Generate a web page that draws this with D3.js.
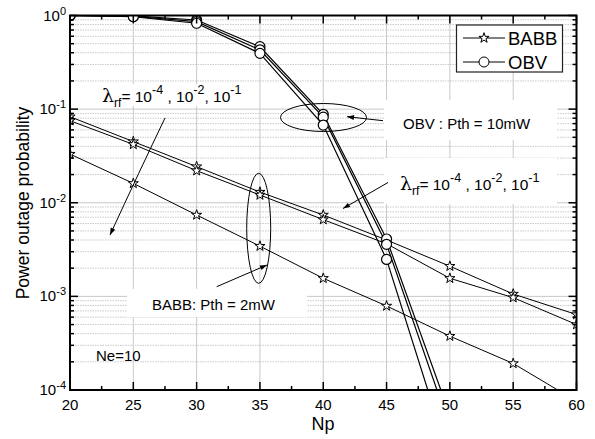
<!DOCTYPE html>
<html>
<head>
<meta charset="utf-8">
<script src="https://cdn.jsdelivr.net/npm/d3@7"></script>
<style>
    body { margin: 0; background: #fff; }
    svg text { font-family: "Liberation Sans", Arial, sans-serif; fill: #000; }
</style>
</head>
<body>
<svg id="chart" width="595" height="439"></svg>
<script>
// data
const npBabb = [20, 25, 30, 35, 40, 45, 50, 55, 60];
const babb1 = [0.083, 0.045, 0.0243, 0.013, 0.0074, 0.0040, 0.0021, 0.00106, 0.00064];
const babb2 = [0.0752, 0.042, 0.022, 0.0121, 0.0066, 0.00365, 0.00156, 0.00097, 0.0005];
const babb3 = [0.0331, 0.0161, 0.0074, 0.00344, 0.00156, 0.00079, 0.000376, 0.000192, 0.000076];
const npObv = [20, 25, 30, 35, 40, 45, 50];
const obv1 = [1.0, 0.99, 0.895, 0.464, 0.088, 0.0041, 5.4e-5];
const obv2 = [1.0, 0.98, 0.86, 0.43, 0.082, 0.0036, 4e-5];
const obv3 = [1.0, 0.97, 0.826, 0.394, 0.0676, 0.00248, 1.8e-5];
const xTicks = [20, 25, 30, 35, 40, 45, 50, 55, 60];
const yExps = [0, -1, -2, -3, -4];
const legendNames = ["BABB", "OBV"];

const pL = 70, pR = 576.5, pT = 15.5, pB = 390;
const x = d3.scaleLinear().domain([20, 60]).range([pL, pR]);
const y = d3.scaleLog().domain([1e-4, 1]).range([pB, pT]);

const svg = d3.select("#chart");
const defs = svg.append("defs");
defs.append("clipPath").attr("id", "plotclip")
    .append("rect").attr("x", pL).attr("y", pT)
    .attr("width", pR - pL).attr("height", pB - pT);
defs.append("marker").attr("id", "arrow")
    .attr("viewBox", "0 0 10 10").attr("refX", 10).attr("refY", 5)
    .attr("markerWidth", 10).attr("markerHeight", 7)
    .attr("markerUnits", "userSpaceOnUse").attr("orient", "auto")
    .append("path").attr("d", "M0,1.5L10,5L0,8.5Z").attr("fill", "#000");

// minor y grid (dotted)
let minorY = [];
for (let e = -4; e < 0; e++)
    for (let k = 2; k <= 9; k++) minorY.push(k * Math.pow(10, e));
svg.append("g").selectAll("line").data(minorY).join("line")
    .attr("x1", pL).attr("x2", pR)
    .attr("y1", d => y(d)).attr("y2", d => y(d))
    .attr("stroke", "#bdbdbd").attr("stroke-width", 0.8)
    .attr("stroke-dasharray", "1.5,1");
// major grid
svg.append("g").selectAll("line").data(yExps).join("line")
    .attr("x1", pL).attr("x2", pR)
    .attr("y1", d => y(Math.pow(10, d))).attr("y2", d => y(Math.pow(10, d)))
    .attr("stroke", "#c8c8c8").attr("stroke-width", 1);
svg.append("g").selectAll("line").data(xTicks).join("line")
    .attr("y1", pT).attr("y2", pB)
    .attr("x1", d => x(d)).attr("x2", d => x(d))
    .attr("stroke", "#c8c8c8").attr("stroke-width", 1);

// white boxes behind the annotation labels
const boxes = [[100, 84, 150, 22], [384, 100, 173, 40], [384, 158, 173, 46], [127, 289, 180, 28]];
svg.append("g").selectAll("rect").data(boxes).join("rect")
    .attr("x", d => d[0]).attr("y", d => d[1]).attr("width", d => d[2]).attr("height", d => d[3])
    .attr("fill", "#fff");

// series
const line = d3.line().x(d => x(d[0])).y(d => y(d[1]));
const plot = svg.append("g").attr("clip-path", "url(#plotclip)");
const obvSeries = [obv1, obv2, obv3].map(s => npObv.map((n, i) => [n, s[i]]));
const babbSeries = [babb1, babb2, babb3].map(s => npBabb.map((n, i) => [n, s[i]]));
const star = d3.symbol().type(d3.symbolStar).size(32);

babbSeries.forEach(s => {
    plot.append("path").attr("d", line(s)).attr("fill", "none")
        .attr("stroke", "#000").attr("stroke-width", 1);
});
obvSeries.forEach(s => {
    plot.append("path").attr("d", line(s)).attr("fill", "none")
        .attr("stroke", "#000").attr("stroke-width", 1.2);
});
babbSeries.forEach(s => {
    plot.append("g").selectAll("path").data(s).join("path")
        .attr("d", star)
        .attr("transform", d => "translate(" + x(d[0]) + "," + y(d[1]) + ")")
        .attr("fill", "#fff").attr("stroke", "#000").attr("stroke-width", 1);
});
obvSeries.forEach(s => {
    plot.append("g").selectAll("circle").data(s).join("circle")
        .attr("cx", d => x(d[0])).attr("cy", d => y(d[1])).attr("r", 5)
        .attr("fill", "#fff").attr("stroke", "#000").attr("stroke-width", 1.2);
});

// frame + ticks
svg.append("rect").attr("x", pL).attr("y", pT)
    .attr("width", pR - pL).attr("height", pB - pT)
    .attr("fill", "none").attr("stroke", "#000").attr("stroke-width", 2);
const ticks = svg.append("g").attr("stroke", "#000").attr("stroke-width", 1.5);
xTicks.forEach(t => {
    ticks.append("line").attr("x1", x(t)).attr("x2", x(t)).attr("y1", pB).attr("y2", pB - 8);
    ticks.append("line").attr("x1", x(t)).attr("x2", x(t)).attr("y1", pT).attr("y2", pT + 8);
    if (t < 60) {
        ticks.append("line").attr("x1", x(t + 2.5)).attr("x2", x(t + 2.5)).attr("y1", pB).attr("y2", pB - 4);
        ticks.append("line").attr("x1", x(t + 2.5)).attr("x2", x(t + 2.5)).attr("y1", pT).attr("y2", pT + 4);
    }
});
yExps.forEach(e => {
    const yy = y(Math.pow(10, e));
    ticks.append("line").attr("x1", pL).attr("x2", pL + 8).attr("y1", yy).attr("y2", yy);
    ticks.append("line").attr("x1", pR).attr("x2", pR - 8).attr("y1", yy).attr("y2", yy);
});
minorY.forEach(v => {
    ticks.append("line").attr("x1", pL).attr("x2", pL + 4).attr("y1", y(v)).attr("y2", y(v));
    ticks.append("line").attr("x1", pR).attr("x2", pR - 4).attr("y1", y(v)).attr("y2", y(v));
});

// tick labels
svg.append("g").selectAll("text").data(xTicks).join("text")
    .attr("x", d => x(d)).attr("y", 410).attr("text-anchor", "middle")
    .attr("font-size", 15).text(d => d);
yExps.forEach(e => {
    const t = svg.append("text").attr("x", 66).attr("y", y(Math.pow(10, e)) + 5)
        .attr("text-anchor", "end").attr("font-size", 15);
    t.append("tspan").text("10");
    t.append("tspan").attr("dy", -6).attr("font-size", 11).text(e);
});

// axis titles
svg.append("text").attr("x", 323).attr("y", 430).attr("text-anchor", "middle")
    .attr("font-size", 18).text("Np");
svg.append("text").attr("transform", "translate(29,203) rotate(-90)")
    .attr("text-anchor", "middle").attr("font-size", 17.5).text("Power outage probability");

// legend
const lg = svg.append("g");
lg.append("rect").attr("x", 456.5).attr("y", 25).attr("width", 106).attr("height", 47)
    .attr("fill", "#fff").attr("stroke", "#222").attr("stroke-width", 1.2);
legendNames.forEach((name, i) => {
    const ly = 38 + i * 24;
    lg.append("line").attr("x1", 463).attr("x2", 505).attr("y1", ly).attr("y2", ly)
        .attr("stroke", "#000").attr("stroke-width", 1);
    if (i === 0)
        lg.append("path").attr("d", star).attr("transform", "translate(484," + ly + ")")
            .attr("fill", "#fff").attr("stroke", "#000");
    else
        lg.append("circle").attr("cx", 484).attr("cy", ly).attr("r", 5)
            .attr("fill", "#fff").attr("stroke", "#000");
    lg.append("text").attr("x", 508).attr("y", ly + 6.5).attr("font-size", 18.5).text(name);
});

// annotations
const ann = svg.append("g").attr("fill", "none").attr("stroke", "#000").attr("stroke-width", 1);
ann.append("ellipse").attr("cx", 323.5).attr("cy", 117.5).attr("rx", 43).attr("ry", 14);
ann.append("ellipse").attr("cx", 258.7).attr("cy", 228.3).attr("rx", 12).attr("ry", 55);
ann.append("line").attr("x1", 383).attr("y1", 120.7).attr("x2", 347).attr("y2", 116.7)
    .attr("marker-end", "url(#arrow)");
ann.append("line").attr("x1", 388).attr("y1", 182.5).attr("x2", 343).attr("y2", 208.5)
    .attr("marker-end", "url(#arrow)");
ann.append("line").attr("x1", 216.7).attr("y1", 286.7).attr("x2", 267).attr("y2", 265)
    .attr("marker-end", "url(#arrow)");
ann.append("path").attr("d", "M165,118 Q140,170 110,235").attr("marker-end", "url(#arrow)");

function lambdaLabel(x0, y0) {
    const t = svg.append("text").attr("x", x0).attr("y", y0).attr("font-size", 15.5);
    t.append("tspan").attr("font-size", 19).attr("font-family", "DejaVu Serif, serif").text("λ");
    t.append("tspan").attr("dy", 5).attr("font-size", 12).text("rf");
    t.append("tspan").attr("dy", -5).text("= 10");
    t.append("tspan").attr("dy", -8).attr("font-size", 12.5).text("-4");
    t.append("tspan").attr("dy", 8).text(" , 10");
    t.append("tspan").attr("dy", -8).attr("font-size", 12.5).text("-2");
    t.append("tspan").attr("dy", 8).text(", 10");
    t.append("tspan").attr("dy", -8).attr("font-size", 12.5).text("-1");
}
lambdaLabel(102, 102);
lambdaLabel(400, 190);
svg.append("text").attr("x", 403).attr("y", 129).attr("font-size", 15).text("OBV : Pth = 10mW");
svg.append("text").attr("x", 152).attr("y", 309.5).attr("font-size", 15).text("BABB: Pth = 2mW");
svg.append("text").attr("x", 96).attr("y", 361).attr("font-size", 15).text("Ne=10");
</script>
</body>
</html>
